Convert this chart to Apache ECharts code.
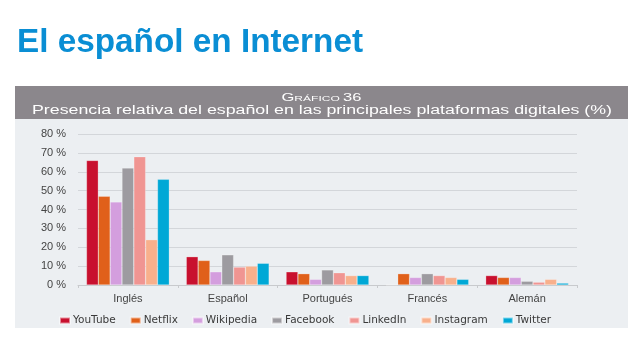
<!DOCTYPE html>
<html><head><meta charset="utf-8">
<script src="https://cdn.jsdelivr.net/npm/echarts@6/dist/echarts.min.js"></script>
<style>html,body{margin:0;padding:0;background:#fff}#c{width:640px;height:356px}</style>
</head><body><div id="c"></div>
<script>
var categories = ['Inglés', 'Español', 'Portugués', 'Francés', 'Alemán'];
var seriesNames = ['YouTube', 'Netflix', 'Wikipedia', 'Facebook', 'LinkedIn', 'Instagram', 'Twitter'];
var youtube   = [66, 15, 7, 0, 5];
var netflix   = [47, 13, 6, 6, 4];
var wikipedia = [44, 7, 3, 4, 4];
var facebook  = [62, 16, 8, 6, 2];
var linkedin  = [68, 9.5, 6.5, 5, 1.5];
var instagram = [24, 10, 5, 4, 3];
var twitter   = [56, 11.5, 5, 3, 1];
var yTicks = [0, 10, 20, 30, 40, 50, 60, 70, 80];
var colors = ['#c8102e', '#e0601a', '#d49ede', '#9d9ba0', '#f09592', '#f8b08c', '#00a8d6'];
var values = [youtube, netflix, wikipedia, facebook, linkedin, instagram, twitter];

var mctx = document.createElement('canvas').getContext('2d');
function textW(str, f) { mctx.font = f; return mctx.measureText(str).width; }

var font = 'Liberation Sans, Arial, sans-serif';
var titleFont = 'bold 33px "Liberation Sans", Arial, sans-serif';
var titleText = 'El español en Internet';
var titleScale = 346 / textW(titleText, titleFont);

var subFont = '12px "Liberation Sans", Arial, sans-serif';
var subText = 'Presencia relativa del español en las principales plataformas digitales (%)';
var subScale = 580 / textW(subText, subFont);

var gA = '11px "Liberation Sans", Arial, sans-serif';
var gB = '8px "Liberation Sans", Arial, sans-serif';
var gW = textW('G', gA) + textW('RÁFICO ', gB) + textW('36', gA);
var gScale = 80 / gW;

var chart = echarts.init(document.getElementById('c'), null, {renderer: 'canvas'});
chart.setOption({
  animation: false,
  backgroundColor: '#fff',
  color: colors,
  graphic: [
    {type: 'text', x: 17, y: 43, scaleX: titleScale, z: 10, style: {text: titleText, fill: '#0a8ed4', font: titleFont, verticalAlign: 'middle'}},
    {type: 'rect', shape: {x: 15, y: 86, width: 613, height: 33}, style: {fill: '#8b878c'}, z: -10},
    {type: 'rect', shape: {x: 15, y: 119, width: 613, height: 209}, style: {fill: '#eceff2'}, z: -10},
    {type: 'text', x: 321.5, y: 97.5, scaleX: gScale, z: 10, style: {
      text: '{a|G}{b|RÁFICO }{a|36}', align: 'center', verticalAlign: 'middle',
      rich: {a: {fill: '#fff', font: gA}, b: {fill: '#fff', font: gB, padding: [2, 0, 0, 0]}}}},
    {type: 'text', x: 322, y: 111, scaleX: subScale, z: 10, style: {
      text: subText, align: 'center', verticalAlign: 'middle', fill: '#fff', font: subFont}}
  ],
  legend: {
    left: 54, top: 310, itemWidth: 10, itemHeight: 6, itemGap: 14, icon: 'rect',
    textStyle: {fontFamily: '"DejaVu Sans", sans-serif', fontSize: 10.5, color: '#3a3a3a', padding: [0, 0, 0, -2]},
    data: seriesNames
  },
  grid: {left: 78, right: 63, top: 134, bottom: 71},
  xAxis: {
    type: 'category', data: categories,
    axisLine: {lineStyle: {color: '#c8cacd'}},
    axisTick: {show: true, length: 3, lineStyle: {color: '#c8cacd'}},
    axisLabel: {fontFamily: font, fontSize: 11, color: '#444', margin: 8}
  },
  yAxis: {
    type: 'value', min: 0, max: 80, interval: 10,
    axisLabel: {formatter: function (v) { return yTicks.indexOf(v) >= 0 ? v + ' %' : ''; }, fontFamily: font, fontSize: 11, color: '#444', margin: 12},
    axisLine: {show: false}, axisTick: {show: false},
    splitLine: {lineStyle: {color: '#d3d6da', width: 1}}
  },
  series: seriesNames.map(function (n, i) {
    return {name: n, type: 'bar', data: values[i], barGap: '0%', barCategoryGap: '17%',
      itemStyle: {borderColor: 'rgba(255,255,255,0.5)', borderWidth: 0.5}};
  })
});
</script></body></html>
